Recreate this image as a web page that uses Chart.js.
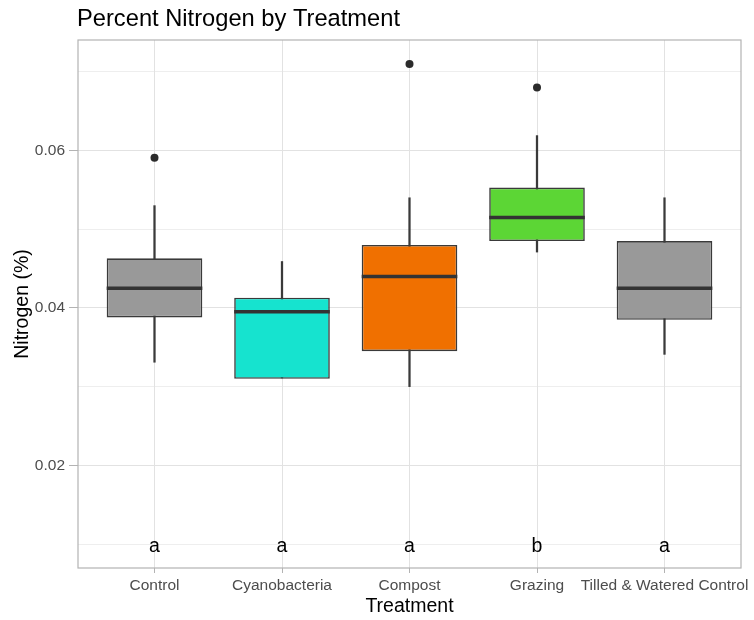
<!DOCTYPE html>
<html>
<head>
<meta charset="utf-8">
<script src="https://cdn.jsdelivr.net/npm/chart.js@4"></script>
<style>
  body { margin: 0; background: #fff; }
  canvas { display: block; }
</style>
</head>
<body>
<canvas id="myChart" width="754" height="620"></canvas>
<script>
// values
const treatments = ['Control', 'Cyanobacteria', 'Compost', 'Grazing', 'Tilled & Watered Control'];
const whiskerLow = [0.0331, 0.0311, 0.0300, 0.0471, 0.0341];
const lowerQuartile = [0.0388, 0.0310, 0.0345, 0.0485, 0.0385];
const medians = [0.0425, 0.0395, 0.0440, 0.0515, 0.0425];
const upperQuartile = [0.0463, 0.0413, 0.0480, 0.0553, 0.0485];
const whiskerHigh = [0.0530, 0.0459, 0.0540, 0.0619, 0.0540];
const outlierGroup = [0, 2, 3];
const outlierValue = [0.0591, 0.0710, 0.0680];
const groupLetters = ['a', 'a', 'a', 'b', 'a'];
const letterLevel = 0.01;
const yTickValues = [0.01, 0.02, 0.03, 0.04, 0.05, 0.06, 0.07];
const yLabelled = [0.02, 0.04, 0.06];

const fillColors = ['#999999', '#16e3cf', '#f07000', '#5cd635', '#999999'];

Chart.defaults.font.family = "'Liberation Sans', Arial, sans-serif";

function isLabelled(v) {
  return yLabelled.some(t => Math.abs(t - v) < 1e-9);
}

const panelPlugin = {
  id: 'panel',
  beforeDatasetsDraw(chart) {
    const { ctx, chartArea } = chart;
    ctx.save();
    ctx.strokeStyle = '#b3b3b3';
    ctx.lineWidth = 1.2;
    ctx.strokeRect(chartArea.left, chartArea.top, chartArea.right - chartArea.left, chartArea.bottom - chartArea.top);
    ctx.restore();
  },
  afterDatasetsDraw(chart) {
    const { ctx, scales } = chart;
    ctx.save();
    ctx.font = '19.5px "Liberation Sans", Arial, sans-serif';
    ctx.fillStyle = '#000';
    ctx.textAlign = 'center';
    ctx.textBaseline = 'middle';
    groupLetters.forEach((l, i) => {
      ctx.fillText(l, scales.x.getPixelForValue(i), scales.y.getPixelForValue(letterLevel) + 3);
    });
    ctx.restore();
  },
  afterDraw(chart) {
    const { ctx, chartArea } = chart;
    ctx.save();
    ctx.font = '23.7px "Liberation Sans", Arial, sans-serif';
    ctx.fillStyle = '#000';
    ctx.textAlign = 'left';
    ctx.textBaseline = 'alphabetic';
    ctx.fillText('Percent Nitrogen by Treatment', chartArea.left - 1, 26);
    ctx.restore();
  }
};

function halfBox(c) {
  const s = c.chart.scales.x;
  return Math.abs(s.getPixelForValue(0.375) - s.getPixelForValue(0));
}

const config = {
  type: 'bar',
  data: {
    datasets: [
      {
        type: 'scatter',
        label: 'outliers',
        data: outlierGroup.map((g, i) => ({ x: g, y: outlierValue[i] })),
        backgroundColor: '#2b2b2b',
        borderWidth: 0,
        pointRadius: 4,
        order: 0
      },
      {
        type: 'scatter',
        label: 'median',
        data: medians.map((m, i) => ({ x: i, y: m })),
        pointStyle: 'line',
        pointRadius: halfBox,
        borderColor: '#333333',
        pointBorderWidth: 3.5,
        order: 1
      },
      {
        label: 'box',
        data: treatments.map((t, i) => ({ x: i, y: [lowerQuartile[i], upperQuartile[i]] })),
        backgroundColor: fillColors,
        borderColor: '#3a3a3a',
        borderWidth: 1.6,
        borderSkipped: false,
        grouped: false,
        categoryPercentage: 1,
        barPercentage: 0.75,
        order: 2
      },
      {
        label: 'whisker',
        data: treatments.map((t, i) => ({ x: i, y: [whiskerLow[i], whiskerHigh[i]] })),
        backgroundColor: '#3a3a3a',
        borderWidth: 0,
        grouped: false,
        barThickness: 1.6,
        order: 3
      }
    ]
  },
  options: {
    responsive: false,
    devicePixelRatio: 1,
    animation: false,
    events: [],
    layout: { padding: { top: 40, right: 13, left: 0, bottom: 0 } },
    plugins: {
      legend: { display: false },
      tooltip: { enabled: false }
    },
    scales: {
      x: {
        type: 'linear',
        min: -0.6,
        max: 4.6,
        offset: false,
        afterBuildTicks(scale) {
          scale.ticks = treatments.map((t, i) => ({ value: i }));
        },
        afterFit(scale) {
          scale.height = 52;
          scale.paddingLeft = 0;
          scale.paddingRight = 0;
        },
        border: { display: false },
        grid: {
          offset: false,
          color: '#e2e2e2',
          lineWidth: 1,
          tickColor: '#b3b3b3',
          tickLength: 5
        },
        ticks: {
          autoSkip: false,
          maxRotation: 0,
          padding: 3,
          color: '#4d4d4d',
          font: { size: 15.5 },
          callback: v => treatments[Math.round(v)]
        },
        title: {
          display: true,
          text: 'Treatment',
          color: '#000',
          font: { size: 19.5 },
          padding: { top: 0, bottom: 2 }
        }
      },
      y: {
        min: 0.00695,
        max: 0.07405,
        afterBuildTicks(scale) {
          scale.ticks = yTickValues.map(v => ({ value: v }));
        },
        afterFit(scale) {
          scale.width = 78;
          scale.paddingTop = 0;
          scale.paddingBottom = 0;
        },
        border: { display: false },
        grid: {
          color: '#e2e2e2',
          lineWidth: c => isLabelled(c.tick.value) ? 1 : 0.6,
          tickColor: c => isLabelled(c.tick.value) ? '#b3b3b3' : 'rgba(0,0,0,0)',
          tickLength: 9
        },
        ticks: {
          padding: 4,
          color: '#4d4d4d',
          font: { size: 15.5 },
          callback: v => isLabelled(v) ? String(Math.round(v * 100) / 100) : ''
        },
        title: {
          display: true,
          text: 'Nitrogen (%)',
          color: '#000',
          font: { size: 19.5 },
          padding: { top: 11, bottom: 0 }
        }
      }
    }
  },
  plugins: [panelPlugin]
};

new Chart(document.getElementById('myChart'), config);
</script>
</body>
</html>
